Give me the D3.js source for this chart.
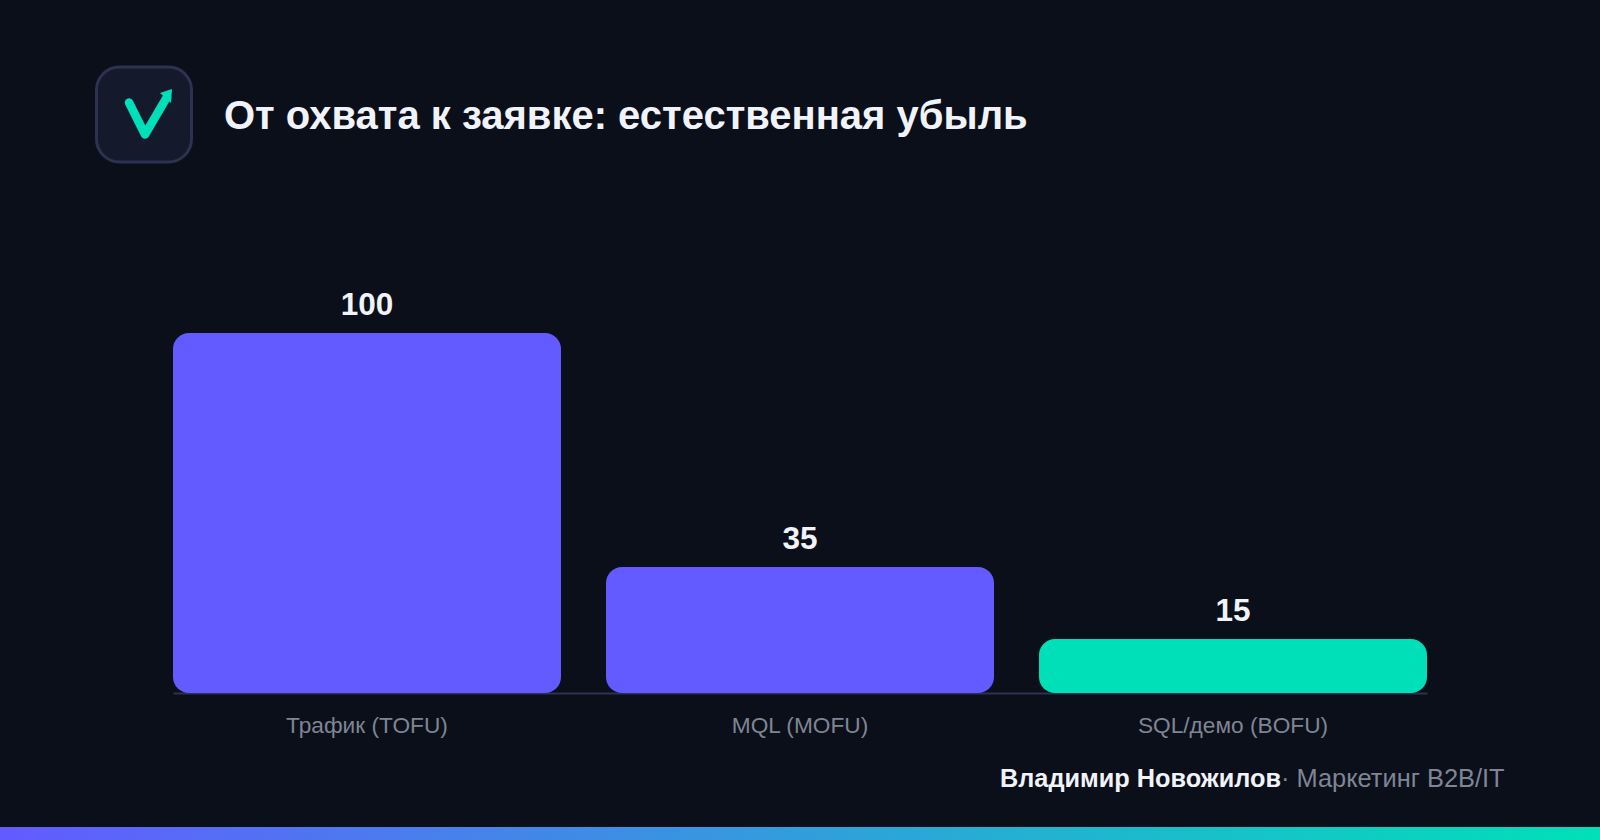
<!DOCTYPE html>
<html><head><meta charset="utf-8">
<script src="https://cdn.jsdelivr.net/npm/d3@7"></script>
<style>html,body{margin:0;padding:0;background:#0b0f19;overflow:hidden}svg{display:block}text{font-family:"Liberation Sans",Arial,sans-serif}</style>
</head><body><svg id="c" width="1600" height="840"></svg>
<script>
const categories=["Трафик (TOFU)","MQL (MOFU)","SQL/демо (BOFU)"];
const values=[100,35,15];
const barColors=["#635bff","#635bff","#00e0b8"];
const titleText="От охвата к заявке: естественная убыль";
const authorName="Владимир Новожилов";
const authorRole="· Маркетинг B2B/IT";

const svg=d3.select("#c");
const defs=svg.append("defs");
const g=defs.append("linearGradient").attr("id","grad").attr("x1",0).attr("x2",1).attr("y1",0).attr("y2",0);
g.append("stop").attr("offset",0).attr("stop-color","#635bff");
g.append("stop").attr("offset",1).attr("stop-color","#00e0b8");
svg.append("rect").attr("width",1600).attr("height",840).attr("fill","#0b0f19");
svg.append("rect").attr("x",0).attr("y",827).attr("width",1600).attr("height",13).attr("fill","url(#grad)");

// logo
svg.append("rect").attr("x",96.5).attr("y",67).attr("width",95).attr("height",95).attr("rx",23)
 .attr("fill","#141a2b").attr("stroke","#2c3350").attr("stroke-width",3);
svg.append("path").attr("d","M129 102.5 L145 134.5 L167 97").attr("fill","none").attr("stroke","#00e0b8")
 .attr("stroke-width",8.5).attr("stroke-linecap","round").attr("stroke-linejoin","round");
svg.append("path").attr("d","M160 93 L172 89 L171 103 Z").attr("fill","#00e0b8");

svg.append("text").attr("x",224).attr("y",128.5).attr("fill","#f1f3fa").attr("font-size",40).attr("font-weight",700).text(titleText);

const x=d3.scaleBand().domain(categories).range([173,1427]).paddingInner(45/433).paddingOuter(0);
const y=d3.scaleLinear().domain([0,100]).range([693,333]);

const axis=d3.axisBottom(x).tickSize(0).tickPadding(0);
const ax=svg.append("g").attr("transform","translate(0,693)").call(axis);
ax.select(".domain").attr("stroke","#2c3350").attr("stroke-width",2);
ax.selectAll("text").attr("y",24).attr("dy","0.71em").attr("fill","#7f8595").attr("font-size",22.7).style("font-family",'"Liberation Sans"');

const r=16;
svg.selectAll("path.bar").data(values).join("path").attr("class","bar")
 .attr("fill",(d,i)=>barColors[i])
 .attr("d",(d,i)=>{const p=d3.path();const a=x(categories[i]),b=a+x.bandwidth(),t=y(d),u=y(0);
   p.moveTo(a+r,t);p.lineTo(b-r,t);p.arcTo(b,t,b,t+r,r);p.lineTo(b,u-r);p.arcTo(b,u,b-r,u,r);p.lineTo(a+r,u);p.arcTo(a,u,a,u-r,r);p.lineTo(a,t+r);p.arcTo(a,t,a+r,t,r);p.closePath();return p.toString();});
svg.selectAll("text.val").data(values).join("text").attr("class","val")
 .attr("x",(d,i)=>x(categories[i])+x.bandwidth()/2).attr("y",d=>y(d)-18.5)
 .attr("text-anchor","middle").attr("fill","#f1f3fa").attr("font-size",31.5).attr("font-weight",700).text(d=>d);

svg.append("text").attr("x",1000).attr("y",787).attr("fill","#f1f3fa").attr("font-size",25.3).attr("font-weight",700).text(authorName);
svg.append("text").attr("x",1281).attr("y",787).attr("fill","#7f8595").attr("font-size",25.4).text(authorRole);
</script></body></html>
